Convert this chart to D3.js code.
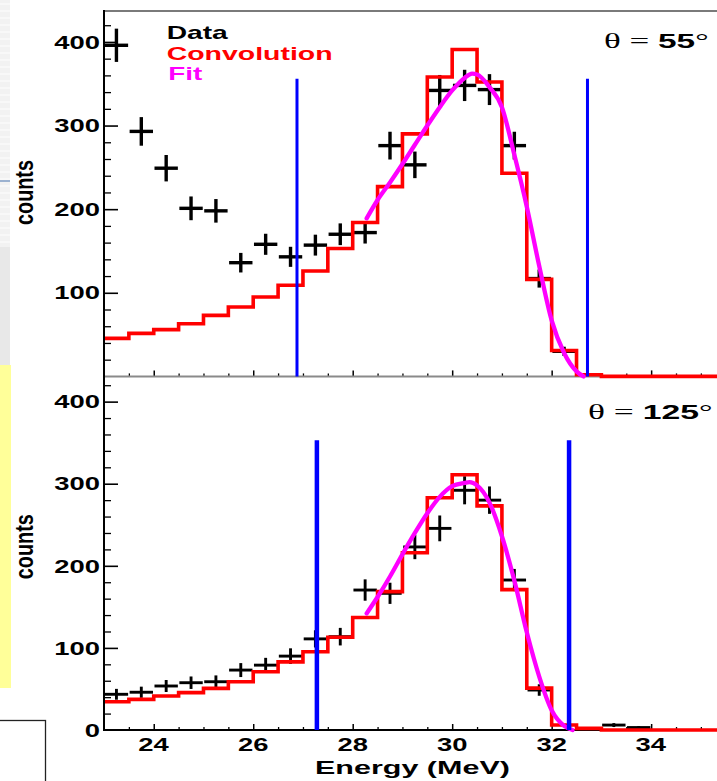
<!DOCTYPE html>
<html><head><meta charset="utf-8">
<script src="https://cdn.jsdelivr.net/npm/d3@7"></script>
<style>html,body{margin:0;padding:0;background:#fff;overflow:hidden}</style>
</head><body>
<svg id="c" width="717" height="781" xmlns="http://www.w3.org/2000/svg"></svg>
<script>
// ---------------- data ----------------
const binEdges = [23,23.5,24,24.5,25,25.5,26,26.5,27,27.5,28,28.5,29,29.5,30,30.5,31,31.5,32,32.5,33,33.5,34,34.5,35];
const convTop = [45.5,51.5,56,63,73,83,95,109,126,153,184,227,290,358,391,352,243,116,31,2,0,0,0,0,0];
const convBot = [34.5,37.3,41.4,45.5,50.7,58.8,71,83,95.4,113,137,168.5,216,283,311,273,171,51,6,2,0,0,0,0,0];

const dataTopE = [23.25,23.75,24.25,24.75,25.25,25.75,26.25,26.75,27.25,27.75,28.25,28.75,29.25,29.75,30.25,30.75,31.25,31.75,32.25];
const dataTopV = [396,293,249,201,198,136,158,143,157,170,172,276,253,342,348,343,276,117,30];
const dataTopErr = [19.9,17.1,15.8,14.2,14.1,11.7,12.6,12,12.5,13,13.1,16.6,15.9,18.5,18.7,18.5,16.6,10.8,5.5];

const dataBotE = [23.25,23.75,24.25,24.75,25.25,25.75,26.25,26.75,27.25,27.75,28.25,28.75,29.25,29.75,30.25,30.75,31.25,31.75,33.25,33.75];
const dataBotV = [43.5,46,53.6,57.6,58.8,73,79,90,111,113.7,170.5,166.5,223,245.6,292,280,182.7,48.7,6,3];
const dataBotErr = [6.6,6.8,7.3,7.6,7.7,8.5,8.9,9.5,10.5,10.7,13,12.9,14.9,15.7,17.1,16.7,13.5,7,2.4,1.7];

const fitTopE = [28.28,28.5,28.75,29.0,29.25,29.5,29.75,30.0,30.25,30.4,30.5,30.75,31.0,31.25,31.5,31.75,32.0,32.25,32.5,32.64];
const fitTopV = [189,211,232,254,277,300,322,342,357,362,361,346,322,265,203,132,67,28,6,0];
const fitBotE = [28.28,28.5,28.75,29.0,29.25,29.5,29.75,30.0,30.25,30.35,30.5,30.75,31.0,31.25,31.5,31.75,32.0,32.25,32.42];
const fitBotV = [142,162,187,214,240,264,284,297,301,302,298,277,236,182,119,65,24,5,0];

const cutsTop = [26.88, 32.72];
const cutsBot = [27.28, 32.35];
const cutTopHeight = 356;
const cutBotHeight = 353;

const yMajor = [0,100,200,300,400];
const yMinor = [20,40,60,80,120,140,160,180,220,240,260,280,320,340,360,380,420];
const xMajor = [24,26,28,30,32,34];
const xMinor = [23.5,24.5,25,25.5,26.5,27,27.5,28.5,29,29.5,30.5,31,31.5,32.5,33,33.5,34.5,35];
const legendLabels = ["Data","Convolution","Fit"];
const angleTop = "55", angleBot = "125";

// ---------------- scales ----------------
const svg = d3.select("#c");
const SANS = "'Liberation Sans', Arial, Helvetica, sans-serif";
const SERIF = "'Liberation Serif', 'Times New Roman', serif";
const x = d3.scaleLinear().domain([23, 35.5]).range([104, 725.75]);
const yTop = d3.scaleLinear().domain([0, 437]).range([376.4, 11]);
const yBot = d3.scaleLinear().domain([0, 430]).range([730, 377]);

// ---------------- background (slide fragments) ----------------
svg.append("rect").attr("width",717).attr("height",781).attr("fill","#fff");
svg.append("rect").attr("x",0).attr("y",0).attr("width",10).attr("height",247).attr("fill","#f2f2f2");
for (let yy = 4; yy < 247; yy += 7) {
  svg.append("line").attr("x1",0).attr("x2",10).attr("y1",yy).attr("y2",yy).attr("stroke","#fafafa").attr("stroke-width",1.5);
}
svg.append("rect").attr("x",0).attr("y",247).attr("width",10).attr("height",118).attr("fill","#e8e8e8");
svg.append("rect").attr("x",0).attr("y",365).attr("width",11).attr("height",323).attr("fill","#ffff99");
svg.append("line").attr("x1",0).attr("x2",10).attr("y1",181).attr("y2",181).attr("stroke","#7f9cc4").attr("stroke-width",1.5);
svg.append("rect").attr("x",-2).attr("y",720.5).attr("width",47.5).attr("height",70)
  .attr("fill","none").attr("stroke","#222").attr("stroke-width",1.3);

// ---------------- text helper ----------------
function label(g, parts, opt) {
  const t = g.append("text").attr("fill", opt.fill || "#000");
  parts.forEach(p => {
    t.append("tspan").text(p.t)
      .attr("font-family", p.family || SANS)
      .attr("font-weight", p.weight || "bold")
      .attr("font-size", p.size || opt.size || 19)
      .attr("fill", p.fill || null);
  });
  const w = t.node().getBBox().width;
  const s = opt.scale || (opt.w / w);
  let left = opt.x;
  if (opt.anchor === "middle") left = opt.x - w * s / 2;
  if (opt.anchor === "end") left = opt.x - w * s;
  t.attr("transform", `translate(${left},${opt.y}) scale(${s},1)`);
  return s;
}

// tick-label stretch derived from the "400" label width
const probe = svg.append("text").attr("font-family",SANS).attr("font-weight","bold").attr("font-size",19).text("400");
const tickScale = 45.7 / probe.node().getBBox().width;
probe.remove();

// ---------------- panels ----------------
const panels = [
  {y: yTop, conv: convTop, de: dataTopE, dv: dataTopV, derr: dataTopErr, fe: fitTopE, fv: fitTopV,
   cuts: cutsTop, cutH: cutTopHeight, xAxisColor: "#8a8a8a", crossW: 3.4, blueW: 3,
   angle: angleTop, thetaX: 604, thetaW: 104.5, thetaY: 47.7, countsY: 192.5, labelsX: false},
  {y: yBot, conv: convBot, de: dataBotE, dv: dataBotV, derr: dataBotErr, fe: fitBotE, fv: fitBotV,
   cuts: cutsBot, cutH: cutBotHeight, xAxisColor: "#000", crossW: 2.9, blueW: 4.5,
   angle: angleBot, thetaX: 588, thetaW: 124.5, thetaY: 419.3, countsY: 546.7, labelsX: true}
];

panels.forEach(P => {
  const g = svg.append("g");
  const y = P.y;
  const y0 = y(0);

  // y ticks (inward)
  g.append("g").attr("transform",`translate(${x(23)},0)`)
    .call(d3.axisLeft(y).tickValues(yMajor.filter(v => v > 0)).tickSize(-14).tickFormat(""))
    .call(a => a.select(".domain").remove())
    .call(a => a.selectAll("line").attr("stroke","#000").attr("stroke-width",1.6));
  g.append("g").attr("transform",`translate(${x(23)},0)`)
    .call(d3.axisLeft(y).tickValues(yMinor).tickSize(-7).tickFormat(""))
    .call(a => a.select(".domain").remove())
    .call(a => a.selectAll("line").attr("stroke","#000").attr("stroke-width",1.3));

  // x ticks (inward)
  g.append("g").attr("transform",`translate(0,${y0})`)
    .call(d3.axisBottom(x).tickValues(xMajor).tickSize(-6).tickFormat(""))
    .call(a => a.select(".domain").remove())
    .call(a => a.selectAll("line").attr("stroke","#000").attr("stroke-width",1.5));
  g.append("g").attr("transform",`translate(0,${y0})`)
    .call(d3.axisBottom(x).tickValues(xMinor).tickSize(-3).tickFormat(""))
    .call(a => a.select(".domain").remove())
    .call(a => a.selectAll("line").attr("stroke","#000").attr("stroke-width",1.3));

  // x axis line
  g.append("line").attr("x1",x(23)).attr("x2",717).attr("y1",y0).attr("y2",y0)
    .attr("stroke",P.xAxisColor).attr("stroke-width",2);

  // data crosses
  const cg = g.append("g").attr("stroke","#000").attr("stroke-width",P.crossW);
  P.de.forEach((e, i) => {
    const v = P.dv[i], er = P.derr[i];
    cg.append("line").attr("x1",x(e-0.235)).attr("x2",x(e+0.235)).attr("y1",y(v)).attr("y2",y(v));
    cg.append("line").attr("x1",x(e)).attr("x2",x(e)).attr("y1",y(v-er)).attr("y2",y(v+er));
  });

  // convolution histogram
  const steps = binEdges.map((e,i) => [e, P.conv[i]]);
  steps.push([35.5, P.conv[P.conv.length-1]]);
  g.append("path").datum(steps)
    .attr("d", d3.line().x(d => x(d[0])).y(d => y(d[1])).curve(d3.curveStepAfter))
    .attr("fill","none").attr("stroke","#ff0000").attr("stroke-width",3.6).attr("stroke-linejoin","miter");

  // fit
  g.append("path").datum(P.fe.map((e,i) => [e, P.fv[i]]))
    .attr("d", d3.line().x(d => x(d[0])).y(d => y(d[1])).curve(d3.curveMonotoneX))
    .attr("fill","none").attr("stroke","#ff00ff").attr("stroke-width",4.3).attr("stroke-linecap","round");

  // cut lines
  P.cuts.forEach(c => {
    g.append("line").attr("x1",x(c)).attr("x2",x(c)).attr("y1",y(P.cutH)).attr("y2",y0)
      .attr("stroke","#0000ff").attr("stroke-width",P.blueW);
  });

  // y tick labels
  yMajor.forEach(v => {
    if (v === 0 && !P.labelsX) return;
    label(g, [{t: String(v)}], {x: 100, y: y(v) + 6.7, anchor: "end", scale: tickScale});
  });

  // x tick labels
  if (P.labelsX) {
    xMajor.forEach(v => label(g, [{t: String(v)}], {x: x(v), y: 751, anchor: "middle", scale: tickScale}));
  }

  // theta label
  label(g, [
    {t: "\u03B8", family: SERIF, weight: "normal", size: 21},
    {t: " = ", family: SERIF, weight: "normal", size: 21},
    {t: P.angle, weight: "bold", size: 20},
    {t: "\u00B0", family: SERIF, weight: "normal", size: 20}
  ], {x: P.thetaX, y: P.thetaY, w: P.thetaW});

  // counts
  const ct = g.append("text").text("counts")
    .attr("font-family",SANS).attr("font-weight","bold").attr("font-size",20).attr("fill","#000");
  const cw = ct.node().getBBox().width;
  const ls = 65 / cw;
  ct.attr("text-anchor","middle")
    .attr("transform",`translate(33.3,${P.countsY}) scale(1.25,1) rotate(-90) scale(${ls},1)`);
});

// frame top line of upper panel and the left axis line
svg.append("line").attr("x1",x(23)).attr("x2",717).attr("y1",11).attr("y2",11)
  .attr("stroke","#7a7a7a").attr("stroke-width",2);
svg.append("line").attr("x1",x(23)).attr("x2",x(23)).attr("y1",10).attr("y2",731)
  .attr("stroke","#000").attr("stroke-width",2);

// legend
const lg = svg.append("g");
label(lg, [{t: legendLabels[0]}], {x: 166.7, y: 39, w: 61.7, fill: "#000"});
label(lg, [{t: legendLabels[1]}], {x: 166.7, y: 60, w: 166, fill: "#ff0000"});
label(lg, [{t: legendLabels[2]}], {x: 168.3, y: 80, w: 35, fill: "#ff00ff"});

// x axis title
label(svg, [{t: "Energy (MeV)"}], {x: 412.5, y: 773.5, anchor: "middle", w: 195});
</script>
</body></html>
